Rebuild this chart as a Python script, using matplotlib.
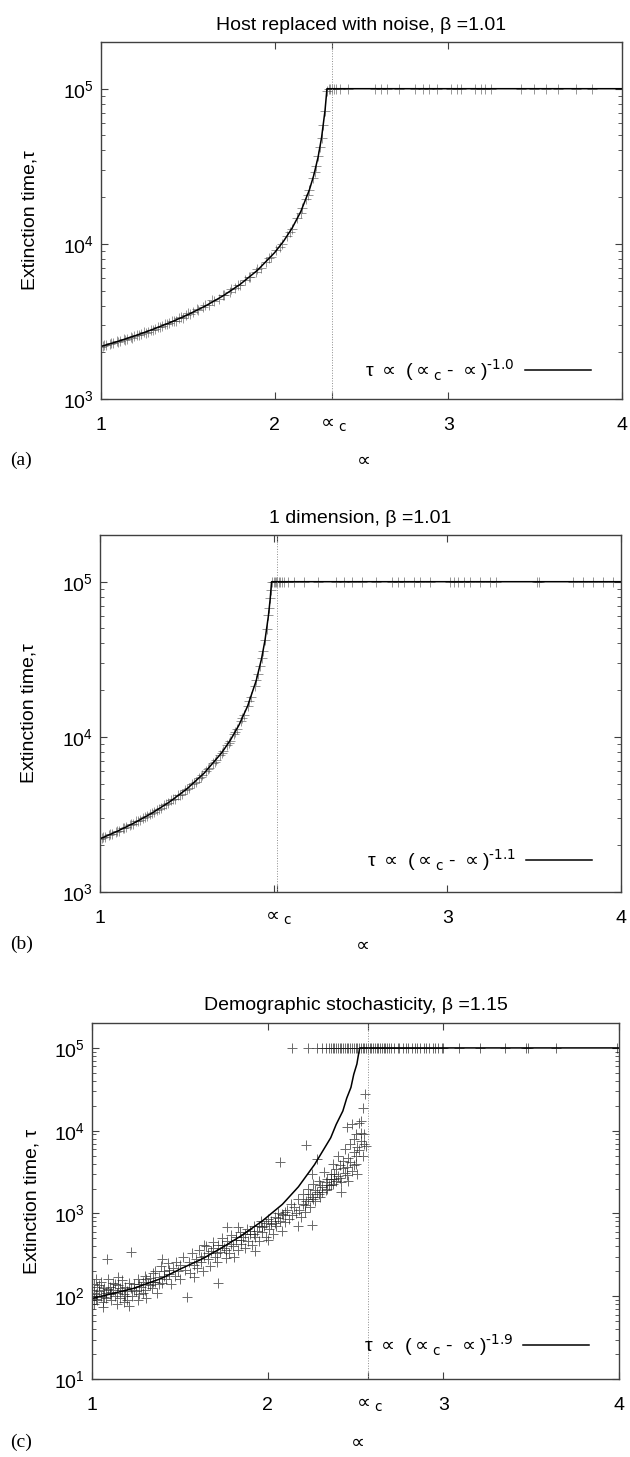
import numpy as np
import matplotlib.pyplot as plt
from matplotlib.ticker import LogLocator, NullFormatter

plt.rcParams['font.family'] = ['Liberation Sans', 'DejaVu Sans']
plt.rcParams['mathtext.fontset'] = 'dejavusans'

# ---- panel (a): host replaced with noise ----
a_alpha_c = 2.33
a_curve_x = [1.0, 1.1, 1.2, 1.3, 1.4, 1.5, 1.6, 1.7, 1.8, 1.9, 2.0, 2.05, 2.1, 2.15, 2.2,
             2.225, 2.25, 2.27, 2.29, 2.30, 2.301, 4.0]
a_curve_y = [2180, 2357, 2565, 2815, 3117, 3493, 3971, 4602, 5470, 6742, 8785, 10354, 12604,
             16106, 22300, 27610, 36238, 48317, 72475, 96633, 100000, 100000]
a_pts_x = [1.00, 1.01, 1.03, 1.05, 1.07, 1.09, 1.11, 1.13, 1.15, 1.17, 1.19, 1.21, 1.23, 1.25,
           1.27, 1.29, 1.31, 1.33, 1.35, 1.37, 1.39, 1.41, 1.43, 1.45, 1.47, 1.49, 1.51, 1.53,
           1.56, 1.59, 1.62, 1.65, 1.68, 1.71, 1.74, 1.77, 1.80, 1.83, 1.86, 1.89, 1.92, 1.95,
           1.98, 2.01, 2.04, 2.07, 2.10, 2.13, 2.16, 2.18, 2.20, 2.22, 2.24, 2.26, 2.27, 2.28,
           2.29, 2.30,
           1.02, 1.06, 1.10, 1.14, 1.18, 1.22, 1.26, 1.30, 1.34, 1.38, 1.42, 1.46, 1.50, 1.55,
           1.60, 1.64, 1.70, 1.75, 1.79, 1.85, 1.90, 1.97, 2.03, 2.09, 2.15, 2.19, 2.23, 2.25]
a_pts_y = [2150, 2200, 2230, 2270, 2290, 2350, 2370, 2430, 2450, 2510, 2530, 2600, 2620, 2700,
           2720, 2800, 2830, 2910, 2940, 3040, 3070, 3170, 3200, 3310, 3350, 3470, 3520, 3650,
           3740, 3940, 4060, 4290, 4430, 4700, 4880, 5210, 5440, 5830, 6130, 6620, 7020, 7680,
           8220, 9120, 9930, 11230, 12500, 14600, 16900, 19500, 22100, 26600, 31900, 41800,
           47800, 58500, 71800, 97000,
           2240, 2280, 2330, 2400, 2480, 2570, 2660, 2780, 2900, 3050, 3200, 3380, 3560, 3790,
           4040, 4350, 4690, 5100, 5420, 6150, 6900, 8050, 9500, 11900, 15700, 20700, 29000,
           36800]
a_plateau_x = [2.310, 2.318, 2.328, 2.340, 2.351, 2.374, 2.420, 2.580, 2.614, 2.649, 2.717,
               2.809, 2.855, 2.889, 2.935, 3.015, 3.049, 3.072, 3.153, 3.187, 3.210, 3.244,
               3.416, 3.496, 3.565, 3.633, 3.736, 3.828]

# ---- panel (b): 1 dimension ----
b_alpha_c = 2.02
b_curve_x = [1.0, 1.1, 1.2, 1.3, 1.4, 1.5, 1.6, 1.7, 1.75, 1.8, 1.85, 1.9, 1.93, 1.95,
             1.97, 1.98, 1.988, 4.0]
b_curve_y = [2200, 2464, 2797, 3226, 3804, 4615, 5838, 7873, 9491, 11900, 15780, 23150,
             31790, 41900, 60650, 77500, 100000, 100000]
b_pts_x = [1.00, 1.01, 1.03, 1.05, 1.07, 1.09, 1.11, 1.13, 1.15, 1.17, 1.19, 1.21, 1.23, 1.25,
           1.27, 1.29, 1.31, 1.33, 1.35, 1.37, 1.39, 1.41, 1.43, 1.45, 1.47, 1.49, 1.51, 1.53,
           1.55, 1.57, 1.59, 1.61, 1.63, 1.65, 1.67, 1.69, 1.71, 1.73, 1.75, 1.77, 1.79, 1.81,
           1.83, 1.85, 1.87, 1.89, 1.91, 1.93, 1.94, 1.95, 1.96, 1.97, 1.975, 1.98, 1.985,
           1.02, 1.06, 1.10, 1.14, 1.18, 1.22, 1.26, 1.30, 1.34, 1.38, 1.42, 1.46, 1.50, 1.54,
           1.58, 1.62, 1.66, 1.70, 1.74, 1.78, 1.82, 1.86, 1.90, 1.92]
b_pts_y = [2180, 2240, 2260, 2340, 2360, 2450, 2480, 2570, 2610, 2700, 2740, 2850, 2900, 3010,
           3070, 3200, 3260, 3400, 3470, 3630, 3720, 3890, 3990, 4190, 4310, 4550, 4690, 4960,
           5120, 5440, 5650, 6030, 6290, 6750, 7080, 7660, 8090, 8830, 9420, 10400, 11250,
           12600, 13880, 15900, 18000, 21400, 25300, 32000, 36000, 42200, 49300, 61000, 67800,
           78000, 89000,
           2250, 2360, 2470, 2600, 2730, 2880, 3040, 3230, 3430, 3680, 3950, 4250, 4620, 5030,
           5550, 6160, 6930, 7900, 9100, 10800, 13300, 16900, 23300, 28500]
b_plateau_x = [1.990, 2.000, 2.005, 2.011, 2.020, 2.028, 2.039, 2.050, 2.062, 2.085, 2.119,
               2.177, 2.257, 2.360, 2.406, 2.452, 2.509, 2.589, 2.681, 2.716, 2.750, 2.807,
               2.842, 2.899, 3.014, 3.037, 3.060, 3.094, 3.128, 3.186, 3.243, 3.278, 3.518,
               3.530, 3.725, 3.782, 3.839, 3.897, 3.954]

# ---- panel (c): demographic stochasticity ----
c_alpha_c = 2.57
c_curve_x = [1.0, 1.119, 1.234, 1.395, 1.510, 1.624, 1.739, 1.854, 1.969, 2.084, 2.175,
             2.267, 2.359, 2.39, 2.428, 2.45, 2.474, 2.49, 2.508, 2.516, 2.524, 4.0]
c_curve_y = [94, 108, 124, 164, 217, 280, 385, 545, 810, 1290, 2100,
             3900, 8220, 11900, 17300, 24700, 33300, 47900, 64000, 81000, 100000, 100000]
c_pts = [
    (1.00, 95), (1.00, 120), (1.01, 80), (1.01, 140), (1.02, 105), (1.03, 90), (1.03, 130),
    (1.04, 115), (1.05, 100), (1.05, 150), (1.06, 85), (1.07, 125), (1.08, 110), (1.08, 95),
    (1.09, 160), (1.10, 105), (1.10, 130), (1.11, 90), (1.12, 120), (1.12, 145), (1.13, 100),
    (1.14, 110), (1.14, 80), (1.15, 135), (1.16, 95), (1.17, 120), (1.17, 155), (1.18, 105),
    (1.19, 130), (1.20, 90), (1.20, 115), (1.21, 76), (1.085, 285), (1.22, 340), (1.02, 160),
    (1.06, 75), (1.15, 170), (1.18, 85),
    (1.01, 110), (1.02, 92), (1.04, 135), (1.06, 118), (1.07, 98), (1.09, 122), (1.11, 112),
    (1.13, 140), (1.16, 125), (1.19, 100), (1.21, 145), (1.24, 118), (1.27, 140), (1.29, 110),
    (1.31, 160), (1.33, 135), (1.35, 150), (1.38, 140), (1.41, 175), (1.44, 210),
    (1.22, 125), (1.23, 100), (1.24, 140), (1.25, 115), (1.26, 160), (1.27, 105), (1.28, 130),
    (1.29, 150), (1.30, 120), (1.30, 175), (1.31, 95), (1.32, 140), (1.33, 165), (1.34, 125),
    (1.35, 190), (1.36, 150), (1.37, 110), (1.38, 170), (1.39, 230), (1.40, 145), (1.40, 280),
    (1.41, 200), (1.42, 160), (1.43, 250), (1.44, 185), (1.45, 140), (1.46, 220), (1.47, 175),
    (1.48, 260), (1.49, 200), (1.50, 160), (1.50, 240), (1.54, 98), (1.36, 200), (1.26, 90),
    (1.52, 300), (1.53, 210), (1.55, 260), (1.56, 190), (1.57, 330), (1.58, 240), (1.59, 280),
    (1.60, 220), (1.61, 360), (1.62, 260), (1.63, 200), (1.64, 310), (1.65, 400), (1.66, 280),
    (1.67, 230), (1.68, 350), (1.69, 450), (1.70, 300), (1.71, 260), (1.72, 420), (1.72, 143),
    (1.73, 340), (1.74, 500), (1.75, 380), (1.76, 290), (1.77, 690), (1.77, 460), (1.78, 330),
    (1.79, 550), (1.80, 400), (1.83, 690), (1.81, 300), (1.64, 420), (1.58, 170),
    (1.62, 300), (1.66, 330), (1.69, 380), (1.71, 330), (1.74, 420), (1.76, 360), (1.79, 430),
    (1.82, 520), (1.85, 480), (1.87, 560), (1.90, 620), (1.92, 560), (1.95, 700), (1.97, 680),
    (1.99, 760), (2.02, 820), (2.04, 760), (2.06, 880), (2.08, 980), (2.10, 1050),
    (1.82, 480), (1.83, 360), (1.84, 600), (1.85, 430), (1.86, 520), (1.87, 380), (1.88, 650),
    (1.89, 470), (1.90, 560), (1.91, 420), (1.92, 700), (1.93, 520), (1.94, 620), (1.95, 460),
    (1.96, 800), (1.97, 600), (1.98, 700), (1.99, 520), (2.00, 850), (2.01, 650), (2.02, 750),
    (2.03, 560), (2.04, 900), (2.05, 700), (2.06, 1000), (2.07, 800), (2.07, 4200), (2.08, 620),
    (2.09, 950), (2.10, 780), (1.93, 350), (2.00, 480),
    (2.11, 1100), (2.12, 850), (2.13, 1300), (2.14, 950), (2.15, 1200), (2.16, 1000),
    (2.17, 1500), (2.18, 1100), (2.19, 900), (2.20, 1300), (2.20, 1700), (2.21, 1050),
    (2.22, 6800), (2.22, 1400), (2.23, 2000), (2.24, 1200), (2.25, 1600), (2.25, 3000),
    (2.26, 2300), (2.27, 1400), (2.28, 1800), (2.28, 4500), (2.29, 2500), (2.30, 1600),
    (2.31, 2100), (2.32, 3200), (2.33, 1900), (2.34, 2600), (2.35, 2200), (2.17, 700),
    (2.25, 720),
    (2.21, 1250), (2.23, 1500), (2.24, 1700), (2.26, 1500), (2.27, 1900), (2.29, 1700),
    (2.30, 2200), (2.31, 1800), (2.33, 2400), (2.34, 2000), (2.36, 2600), (2.37, 2300),
    (2.38, 3000), (2.39, 2500), (2.41, 2700), (2.43, 3500), (2.45, 2900), (2.47, 4200),
    (2.49, 3800), (2.50, 5000), (2.52, 5800), (2.55, 9000), (2.56, 6500), (2.53, 9500),
    (2.49, 8000),
    (2.36, 3000), (2.36, 2200), (2.37, 4000), (2.38, 2600), (2.39, 3400), (2.40, 2800),
    (2.40, 5000), (2.41, 3800), (2.42, 2400), (2.43, 4300), (2.44, 3100), (2.44, 6000),
    (2.45, 3600), (2.46, 2500), (2.46, 4700), (2.47, 7000), (2.48, 3300), (2.48, 12000),
    (2.49, 5500), (2.50, 4000), (2.50, 9000), (2.51, 3000), (2.51, 6300), (2.52, 12500),
    (2.53, 7500), (2.53, 13000), (2.54, 5000), (2.54, 19000), (2.55, 7000), (2.555, 28000),
    (2.45, 11000), (2.42, 1800),
]
c_pts_x = [p[0] for p in c_pts]
c_pts_y = [p[1] for p in c_pts]
c_plateau_x = [2.14, 2.23, 2.28, 2.31, 2.33, 2.35, 2.36, 2.37, 2.38, 2.39, 2.40, 2.41, 2.42,
               2.43, 2.44, 2.45, 2.46, 2.47, 2.48, 2.49, 2.50, 2.51, 2.52, 2.53, 2.54, 2.55,
               2.56, 2.57, 2.58, 2.59, 2.60, 2.61, 2.62, 2.63, 2.64, 2.65, 2.66, 2.67, 2.68,
               2.69, 2.70, 2.72, 2.74, 2.75, 2.77, 2.79, 2.80, 2.82, 2.84, 2.85, 2.87, 2.89,
               2.90, 2.92, 2.94, 2.95, 2.97, 2.99, 3.00, 3.09, 3.21, 3.35, 3.47, 3.48, 3.64, 3.99]

plateau = 1e5
fs = 14

fig = plt.figure(figsize=(6.3, 14.57), dpi=100)


def panel(rect, title, curve_x, curve_y, pts_x, pts_y, plat_x, ac, ylim, ylabel,
          exponent, xtick_labels, pt_color, pt_alpha, leg_pos, tag, tag_y, ylabelpad):
    ax = fig.add_axes(rect)
    ax.plot(pts_x, pts_y, '+', color=pt_color, ms=7, mew=0.7, alpha=pt_alpha)
    ax.plot(plat_x, np.full(len(plat_x), plateau), '+', color=pt_color, ms=7, mew=0.7,
            alpha=pt_alpha)
    ax.plot(curve_x, curve_y, '-', color='black', lw=1.1,
            label=r'τ $\propto$ ($\propto_{\mathrm{c}}$ - $\propto$)$^{\text{%s}}$' % exponent)
    ax.axvline(ac, color='0.55', lw=0.7, ls=':')
    ax.set_yscale('log')
    ax.set_xlim(1, 4)
    ax.set_ylim(*ylim)
    ax.yaxis.set_major_locator(LogLocator(base=10, numticks=10))
    ax.yaxis.set_minor_locator(LogLocator(base=10, subs=np.arange(2, 10), numticks=20))
    ax.yaxis.set_minor_formatter(NullFormatter())
    ax.set_xticks([1, 2, 3, 4, ac])
    ax.set_xticklabels(xtick_labels + [r'$\propto_{\mathrm{c}}$'])
    ax.tick_params(which='both', direction='in', top=True, right=True, labelsize=fs,
                   color='0.25')
    ax.tick_params(which='major', length=5, width=0.8)
    ax.tick_params(which='minor', length=3, width=0.6)
    ax.tick_params(axis='x', pad=13)
    ax.tick_params(axis='y', pad=5)
    for s in ax.spines.values():
        s.set_linewidth(1.0)
        s.set_color('0.25')
    ax.set_title(title, fontsize=fs, pad=9)
    ax.set_ylabel(ylabel, fontsize=fs, labelpad=ylabelpad)
    ax.legend(loc='center right', bbox_to_anchor=leg_pos, frameon=False, fontsize=fs,
              markerfirst=False, handlelength=3.4, handletextpad=0.5, borderpad=0,
              borderaxespad=0)
    fig.text(10 / 630, 1 - tag_y / 1457, tag, family='Liberation Serif', fontsize=14,
             va='center', ha='left')
    cx = rect[0] + rect[2] / 2
    fig.text(cx, 1 - tag_y / 1457, r'$\propto$', fontsize=14, va='center', ha='center')
    return ax


panel([101 / 630, 1 - 399 / 1457, 521 / 630, 357 / 1457],
      'Host replaced with noise, β =1.01', a_curve_x, a_curve_y, a_pts_x, a_pts_y,
      a_plateau_x, a_alpha_c, (1e3, 2e5), 'Extinction time,τ', '-1.0',
      ['1', '2', '3', '4'], '0.25', 0.55, (0.94, 0.081), '(a)', 460, 18)

panel([100 / 630, 1 - 892 / 1457, 521 / 630, 357 / 1457],
      '1 dimension, β =1.01', b_curve_x, b_curve_y, b_pts_x, b_pts_y,
      b_plateau_x, b_alpha_c, (1e3, 2e5), 'Extinction time,τ', '-1.1',
      ['1', '', '3', '4'], '0.25', 0.55, (0.944, 0.09), '(b)', 944, 18)

panel([92 / 630, 1 - 1379 / 1457, 527 / 630, 356 / 1457],
      'Demographic stochasticity, β =1.15', c_curve_x, c_curve_y, c_pts_x, c_pts_y,
      c_plateau_x, c_alpha_c, (10, 2e5), 'Extinction time, τ', '-1.9',
      ['1', '2', '3', '4'], '0.1', 0.65, (0.943, 0.095), '(c)', 1442, 10)

fig.savefig('out.png', dpi=100)
